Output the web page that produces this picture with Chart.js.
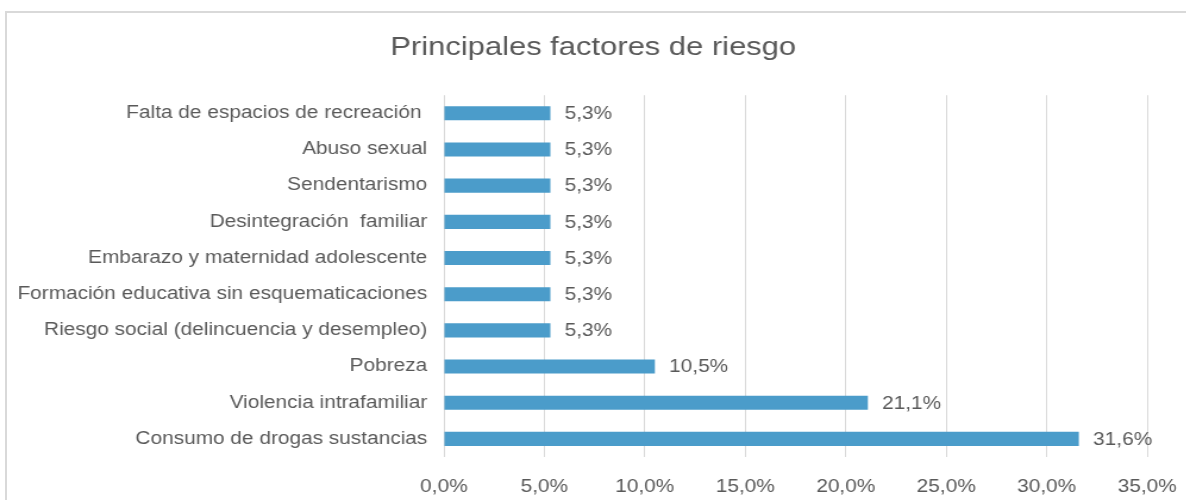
<!DOCTYPE html>
<html>
<head>
<meta charset="utf-8">
<script src="https://cdn.jsdelivr.net/npm/chart.js@4"></script>
<style>
  html, body { margin: 0; padding: 0; background: #fff; overflow: hidden; }
  .frame {
    position: absolute; left: 5px; top: 11px;
    width: 1200px; height: 600px;
    border: 2px solid #d9d9d9; box-sizing: border-box;
  }
  /* the source picture is stretched sideways, so stretch the canvas the same way */
  .wrap {
    position: absolute; left: 0; top: 0;
    transform: scaleX(1.19); transform-origin: 0 0;
  }
</style>
</head>
<body>
<div class="frame"></div>
<div class="wrap"><canvas id="chart" width="997" height="500"></canvas></div>
<script>
'use strict';

// data
var categories = [
  'Falta de espacios de recreación ',
  'Abuso sexual',
  'Sendentarismo',
  'Desintegración  familiar',
  'Embarazo y maternidad adolescente',
  'Formación educativa sin esquematicaciones',
  'Riesgo social (delincuencia y desempleo)',
  'Pobreza',
  'Violencia intrafamiliar',
  'Consumo de drogas sustancias'
];
var porcentajes = [5.3, 5.3, 5.3, 5.3, 5.3, 5.3, 5.3, 10.5, 21.1, 31.6];
var xTicks = [0, 5, 10, 15, 20, 25, 30, 35];

var FONT = "'Liberation Sans', Arial, sans-serif";
var GRAY = '#595959';

function fmt(v) {
  return v.toFixed(1).replace('.', ',') + '%';
}

// value labels at bar end
var valueLabels = {
  id: 'valueLabels',
  afterDatasetsDraw: function(chart) {
    var ctx = chart.ctx;
    var meta = chart.getDatasetMeta(0);
    ctx.save();
    ctx.font = '17.5px ' + FONT;
    ctx.fillStyle = GRAY;
    ctx.textAlign = 'left';
    ctx.textBaseline = 'middle';
    meta.data.forEach(function(bar, i) {
      ctx.fillText(fmt(porcentajes[i]), bar.x + 12, bar.y + 1);
    });
    ctx.restore();
  }
};

new Chart(document.getElementById('chart'), {
  type: 'bar',
  data: {
    labels: categories,
    datasets: [{
      data: porcentajes,
      backgroundColor: '#4b9cca',
      borderWidth: 0,
      categoryPercentage: 1,
      barPercentage: 0.39
    }]
  },
  options: {
    indexAxis: 'y',
    responsive: false,
    animation: false,
    devicePixelRatio: 1,
    layout: {
      padding: 0
    },
    scales: {
      x: {
        min: 0,
        max: 35,
        afterBuildTicks: function(scale) {
          scale.ticks = xTicks.map(function(v) { return { value: v }; });
        },
        afterFit: function(scale) {
          scale.height = 43;
          scale.paddingLeft = 0;
          scale.paddingRight = 0;
        },
        border: { display: false },
        grid: { color: '#d9d9d9', lineWidth: 1, drawTicks: false },
        ticks: {
          padding: 20,
          color: GRAY,
          font: { family: FONT, size: 17.5 },
          callback: function(v) { return fmt(v); }
        }
      },
      y: {
        afterFit: function(scale) { scale.width = 373; },
        border: { display: false },
        grid: { display: false, drawTicks: false },
        ticks: {
          padding: 14,
          color: GRAY,
          font: { family: FONT, size: 17.5 }
        }
      },
      // empty right-hand axis, only keeps space on the right so the title stays centred
      y2: {
        position: 'right',
        afterFit: function(scale) { scale.width = 33; },
        border: { display: false },
        grid: { display: false, drawTicks: false },
        ticks: { display: false }
      }
    },
    plugins: {
      legend: { display: false },
      tooltip: { enabled: false },
      title: {
        display: true,
        text: 'Principales factores de riesgo',
        color: GRAY,
        font: { family: FONT, size: 26, weight: 'normal' },
        padding: { top: 32, bottom: 32 }
      }
    }
  },
  plugins: [valueLabels]
});
</script>
</body>
</html>
